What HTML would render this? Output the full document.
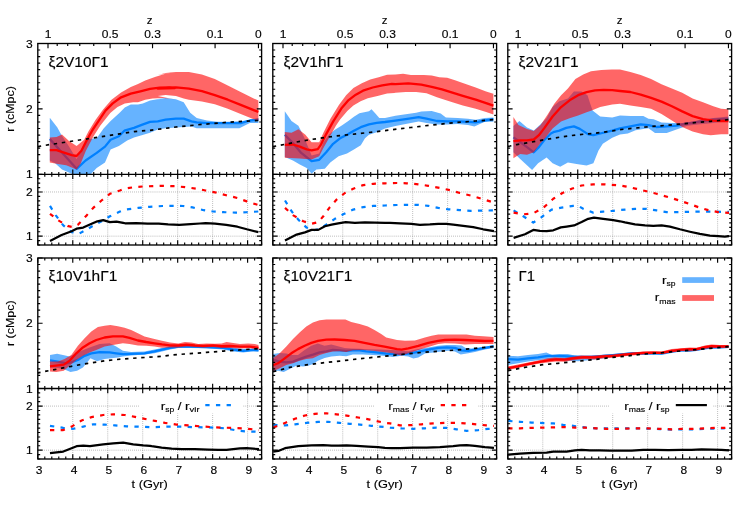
<!DOCTYPE html>
<html><head><meta charset="utf-8"><title>chart</title>
<style>html,body{margin:0;padding:0;background:#fff;}body{width:747px;height:505px;overflow:hidden;font-family:"Liberation Sans",sans-serif;}</style>
</head><body>
<svg width="747" height="505" viewBox="0 0 747 505" style="display:block">
<rect width="747" height="505" fill="#fff"/>
<clipPath id="cu00"><rect x="37.8" y="43.5" width="223.8" height="130.8"/></clipPath>
<clipPath id="cl00"><rect x="37.8" y="174.3" width="223.8" height="70.69999999999999"/></clipPath>
<line x1="72.77" y1="174.30" x2="72.77" y2="245.00" stroke="#7a7a7a" stroke-width="0.7" stroke-dasharray="0.7 1.35"/>
<line x1="107.74" y1="174.30" x2="107.74" y2="245.00" stroke="#7a7a7a" stroke-width="0.7" stroke-dasharray="0.7 1.35"/>
<line x1="142.71" y1="174.30" x2="142.71" y2="245.00" stroke="#7a7a7a" stroke-width="0.7" stroke-dasharray="0.7 1.35"/>
<line x1="177.68" y1="174.30" x2="177.68" y2="245.00" stroke="#7a7a7a" stroke-width="0.7" stroke-dasharray="0.7 1.35"/>
<line x1="212.64" y1="174.30" x2="212.64" y2="245.00" stroke="#7a7a7a" stroke-width="0.7" stroke-dasharray="0.7 1.35"/>
<line x1="247.61" y1="174.30" x2="247.61" y2="245.00" stroke="#7a7a7a" stroke-width="0.7" stroke-dasharray="0.7 1.35"/>
<line x1="37.80" y1="236.16" x2="261.60" y2="236.16" stroke="#7a7a7a" stroke-width="0.7" stroke-dasharray="0.7 1.35"/>
<line x1="37.80" y1="191.98" x2="261.60" y2="191.98" stroke="#7a7a7a" stroke-width="0.7" stroke-dasharray="0.7 1.35"/>
<polygon points="49.8,117.8 57.2,127.2 61.3,134.8 69.0,146.6 76.6,159.1 82.8,146.6 88.4,139.0 96.7,138.3 103.6,128.6 110.6,121.0 119.9,112.4 124.8,107.6 130.8,104.6 138.0,104.6 142.8,103.4 150.1,100.4 157.3,99.2 166.9,98.8 175.0,100.4 157.8,99.0 165.6,97.9 175.9,99.2 183.7,102.3 190.2,112.7 196.7,117.9 207.0,120.5 217.4,121.8 227.8,121.8 240.7,121.3 253.7,119.2 258.4,117.9 258.4,123.1 249.8,123.1 239.4,128.3 227.8,128.3 217.4,128.3 207.0,128.3 196.7,128.3 191.5,126.4 183.7,127.0 175.9,127.5 165.6,128.3 157.8,129.6 150.0,132.7 141.7,135.3 134.0,137.6 127.2,140.4 118.9,145.9 110.6,149.4 105.0,162.6 96.7,168.1 91.9,173.0 88.4,177.1 75.9,177.1 71.7,173.7 62.0,169.5 55.1,163.3 49.8,160.5" fill="#0080ff" fill-opacity="0.6" clip-path="url(#cu00)"/>
<polyline points="49.8,139.0 76.6,168.8 85.6,160.5 96.7,152.9 105.0,146.6 110.6,139.7 118.9,136.2 124.4,130.7 134.0,127.9 141.7,124.9 150.0,121.8 157.8,121.3 165.6,119.7 175.9,118.7 183.7,118.7 191.5,121.3 196.7,122.3 207.0,123.1 217.4,123.1 227.8,123.1 240.7,123.1 249.8,120.5 258.4,119.7" fill="none" stroke="#0080ff" stroke-width="2.3" stroke-linejoin="round" clip-path="url(#cu00)"/>
<polygon points="49.8,137.6 56.5,136.9 62.0,134.4 69.0,141.1 76.6,145.9 84.2,139.7 88.4,131.4 95.3,120.3 103.1,109.4 111.5,99.8 121.1,92.5 130.8,87.1 138.0,84.1 145.2,80.5 154.9,76.9 164.5,73.9 175.0,72.0 157.8,75.1 165.6,73.0 175.9,72.0 188.9,72.0 201.9,74.6 214.8,79.0 227.8,85.5 240.7,92.0 253.7,98.4 258.4,100.5 258.4,120.7 253.7,119.2 240.7,114.0 227.8,108.8 214.8,104.2 201.9,101.6 188.9,99.7 183.7,98.4 175.9,95.9 165.6,95.1 157.8,95.9 175.0,99.5 169.3,98.6 162.1,98.0 152.5,98.6 145.2,99.8 138.0,102.2 133.2,102.2 124.8,103.4 117.5,107.0 110.3,113.0 100.2,125.8 93.1,136.9 85.9,150.8 80.8,163.3 76.6,169.5 66.2,165.3 57.9,163.9 49.8,162.6" fill="#ff0000" fill-opacity="0.6" clip-path="url(#cu00)"/>
<polyline points="49.8,150.1 56.5,150.1 64.8,152.9 71.7,155.2 76.6,156.0 81.4,150.8 85.6,142.4 92.5,130.0 99.5,119.6 105.5,110.6 112.7,103.4 121.1,97.3 130.8,93.7 140.4,91.3 150.1,88.9 159.7,87.7 169.3,87.5 175.0,88.0 157.8,88.6 165.6,87.6 175.9,87.3 188.9,88.6 201.9,91.2 214.8,95.1 227.8,99.7 240.7,104.9 253.7,110.1 258.4,111.9" fill="none" stroke="#ff0000" stroke-width="2.3" stroke-linejoin="round" clip-path="url(#cu00)"/>
<polyline points="37.8,146.6 44.0,145.5 134.0,131.6 150.0,130.3 175.9,127.0 201.9,124.4 227.8,122.3 258.4,120.5 262.0,120.0" fill="none" stroke="#000" stroke-width="1.7" stroke-linejoin="round" stroke-dasharray="3.4 4.7" clip-path="url(#cu00)"/>
<polyline points="50.0,205.9 55.8,215.4 63.3,225.4 71.6,232.1 79.1,233.7 86.6,229.6 94.9,224.6 103.2,220.4 109.9,216.3 119.9,211.6 125.0,209.6 138.1,207.9 149.4,206.8 162.5,206.0 171.9,205.9 183.1,206.0 192.5,207.4 203.7,210.2 213.1,211.5 224.3,212.2 235.6,212.6 246.8,212.2 258.4,211.5" fill="none" stroke="#0080ff" stroke-width="2.2" stroke-linejoin="round" stroke-dasharray="4.3 6.35" clip-path="url(#cl00)"/>
<polyline points="50.0,213.8 58.3,220.4 68.3,226.2 73.3,227.1 78.2,224.6 86.6,215.4 93.2,207.9 101.5,200.5 109.9,193.8 119.9,190.5 125.0,188.6 134.4,187.1 143.7,186.4 162.5,185.8 173.7,186.2 185.0,187.1 196.2,188.6 205.6,190.5 215.0,192.4 226.2,195.2 237.4,198.0 246.8,201.4 258.4,205.1" fill="none" stroke="#ff0000" stroke-width="2.2" stroke-linejoin="round" stroke-dasharray="4.3 6.35" clip-path="url(#cl00)"/>
<polyline points="50.0,240.9 61.6,235.1 71.6,231.2 76.6,228.7 83.2,227.6 89.9,224.6 97.4,221.3 103.2,220.1 109.9,222.1 116.5,221.6 123.2,222.9 125.0,223.3 136.2,223.1 147.5,223.7 158.7,223.7 168.1,224.4 179.3,224.8 190.6,224.2 200.0,223.5 205.6,223.1 215.0,223.7 226.2,224.8 237.4,226.7 246.8,229.3 258.4,232.1" fill="none" stroke="#000" stroke-width="2.2" stroke-linejoin="round" clip-path="url(#cl00)"/>
<path d="M37.80 174.30L42.60 174.30M261.60 174.30L256.80 174.30M37.80 167.76L40.20 167.76M261.60 167.76L259.20 167.76M37.80 161.22L40.20 161.22M261.60 161.22L259.20 161.22M37.80 154.68L40.20 154.68M261.60 154.68L259.20 154.68M37.80 148.14L40.20 148.14M261.60 148.14L259.20 148.14M37.80 141.60L40.20 141.60M261.60 141.60L259.20 141.60M37.80 135.06L40.20 135.06M261.60 135.06L259.20 135.06M37.80 128.52L40.20 128.52M261.60 128.52L259.20 128.52M37.80 121.98L40.20 121.98M261.60 121.98L259.20 121.98M37.80 115.44L40.20 115.44M261.60 115.44L259.20 115.44M37.80 108.90L42.60 108.90M261.60 108.90L256.80 108.90M37.80 102.36L40.20 102.36M261.60 102.36L259.20 102.36M37.80 95.82L40.20 95.82M261.60 95.82L259.20 95.82M37.80 89.28L40.20 89.28M261.60 89.28L259.20 89.28M37.80 82.74L40.20 82.74M261.60 82.74L259.20 82.74M37.80 76.20L40.20 76.20M261.60 76.20L259.20 76.20M37.80 69.66L40.20 69.66M261.60 69.66L259.20 69.66M37.80 63.12L40.20 63.12M261.60 63.12L259.20 63.12M37.80 56.58L40.20 56.58M261.60 56.58L259.20 56.58M37.80 50.04L40.20 50.04M261.60 50.04L259.20 50.04M37.80 43.50L42.60 43.50M261.60 43.50L256.80 43.50M37.80 245.00L40.20 245.00M261.60 245.00L259.20 245.00M37.80 240.58L40.20 240.58M261.60 240.58L259.20 240.58M37.80 236.16L42.60 236.16M261.60 236.16L256.80 236.16M37.80 231.74L40.20 231.74M261.60 231.74L259.20 231.74M37.80 227.32L40.20 227.32M261.60 227.32L259.20 227.32M37.80 222.91L40.20 222.91M261.60 222.91L259.20 222.91M37.80 218.49L40.20 218.49M261.60 218.49L259.20 218.49M37.80 214.07L40.20 214.07M261.60 214.07L259.20 214.07M37.80 209.65L40.20 209.65M261.60 209.65L259.20 209.65M37.80 205.23L40.20 205.23M261.60 205.23L259.20 205.23M37.80 200.81L40.20 200.81M261.60 200.81L259.20 200.81M37.80 196.39L40.20 196.39M261.60 196.39L259.20 196.39M37.80 191.98L42.60 191.98M261.60 191.98L256.80 191.98M37.80 187.56L40.20 187.56M261.60 187.56L259.20 187.56M37.80 183.14L40.20 183.14M261.60 183.14L259.20 183.14M37.80 178.72L40.20 178.72M261.60 178.72L259.20 178.72M37.80 174.30L40.20 174.30M261.60 174.30L259.20 174.30M37.80 169.50L37.80 179.10M37.80 245.00L37.80 240.20M44.79 171.90L44.79 176.70M44.79 245.00L44.79 242.60M51.79 171.90L51.79 176.70M51.79 245.00L51.79 242.60M58.78 171.90L58.78 176.70M58.78 245.00L58.78 242.60M65.77 171.90L65.77 176.70M65.77 245.00L65.77 242.60M72.77 169.50L72.77 179.10M72.77 245.00L72.77 240.20M79.76 171.90L79.76 176.70M79.76 245.00L79.76 242.60M86.76 171.90L86.76 176.70M86.76 245.00L86.76 242.60M93.75 171.90L93.75 176.70M93.75 245.00L93.75 242.60M100.74 171.90L100.74 176.70M100.74 245.00L100.74 242.60M107.74 169.50L107.74 179.10M107.74 245.00L107.74 240.20M114.73 171.90L114.73 176.70M114.73 245.00L114.73 242.60M121.73 171.90L121.73 176.70M121.73 245.00L121.73 242.60M128.72 171.90L128.72 176.70M128.72 245.00L128.72 242.60M135.71 171.90L135.71 176.70M135.71 245.00L135.71 242.60M142.71 169.50L142.71 179.10M142.71 245.00L142.71 240.20M149.70 171.90L149.70 176.70M149.70 245.00L149.70 242.60M156.69 171.90L156.69 176.70M156.69 245.00L156.69 242.60M163.69 171.90L163.69 176.70M163.69 245.00L163.69 242.60M170.68 171.90L170.68 176.70M170.68 245.00L170.68 242.60M177.68 169.50L177.68 179.10M177.68 245.00L177.68 240.20M184.67 171.90L184.67 176.70M184.67 245.00L184.67 242.60M191.66 171.90L191.66 176.70M191.66 245.00L191.66 242.60M198.66 171.90L198.66 176.70M198.66 245.00L198.66 242.60M205.65 171.90L205.65 176.70M205.65 245.00L205.65 242.60M212.64 169.50L212.64 179.10M212.64 245.00L212.64 240.20M219.64 171.90L219.64 176.70M219.64 245.00L219.64 242.60M226.63 171.90L226.63 176.70M226.63 245.00L226.63 242.60M233.63 171.90L233.63 176.70M233.63 245.00L233.63 242.60M240.62 171.90L240.62 176.70M240.62 245.00L240.62 242.60M247.61 169.50L247.61 179.10M247.61 245.00L247.61 240.20M254.61 171.90L254.61 176.70M254.61 245.00L254.61 242.60M261.60 171.90L261.60 176.70M261.60 245.00L261.60 242.60M258.45 43.50L258.45 48.30M215.08 43.50L215.08 48.30M180.55 43.50L180.55 45.90M152.54 43.50L152.54 48.30M129.43 43.50L129.43 45.90M110.11 43.50L110.11 48.30M93.75 43.50L93.75 45.90M79.77 43.50L79.77 45.90M67.70 43.50L67.70 45.90M57.20 43.50L57.20 45.90M48.00 43.50L48.00 48.30" stroke="#000" stroke-width="1.15" fill="none"/>
<rect x="37.8" y="43.5" width="223.8" height="201.5" fill="none" stroke="#000" stroke-width="1.35"/>
<line x1="37.80" y1="174.30" x2="261.60" y2="174.30" stroke="#000" stroke-width="1.35" />
<clipPath id="cu01"><rect x="272.8" y="43.5" width="223.8" height="130.8"/></clipPath>
<clipPath id="cl01"><rect x="272.8" y="174.3" width="223.8" height="70.69999999999999"/></clipPath>
<line x1="307.77" y1="174.30" x2="307.77" y2="245.00" stroke="#7a7a7a" stroke-width="0.7" stroke-dasharray="0.7 1.35"/>
<line x1="342.74" y1="174.30" x2="342.74" y2="245.00" stroke="#7a7a7a" stroke-width="0.7" stroke-dasharray="0.7 1.35"/>
<line x1="377.71" y1="174.30" x2="377.71" y2="245.00" stroke="#7a7a7a" stroke-width="0.7" stroke-dasharray="0.7 1.35"/>
<line x1="412.68" y1="174.30" x2="412.68" y2="245.00" stroke="#7a7a7a" stroke-width="0.7" stroke-dasharray="0.7 1.35"/>
<line x1="447.64" y1="174.30" x2="447.64" y2="245.00" stroke="#7a7a7a" stroke-width="0.7" stroke-dasharray="0.7 1.35"/>
<line x1="482.61" y1="174.30" x2="482.61" y2="245.00" stroke="#7a7a7a" stroke-width="0.7" stroke-dasharray="0.7 1.35"/>
<line x1="272.80" y1="236.16" x2="496.60" y2="236.16" stroke="#7a7a7a" stroke-width="0.7" stroke-dasharray="0.7 1.35"/>
<line x1="272.80" y1="191.98" x2="496.60" y2="191.98" stroke="#7a7a7a" stroke-width="0.7" stroke-dasharray="0.7 1.35"/>
<polygon points="284.8,111.2 291.5,121.0 298.4,125.8 304.0,136.9 311.6,155.6 319.2,153.5 323.4,142.4 328.9,134.8 334.5,130.0 341.4,125.8 348.3,121.0 353.9,116.8 359.4,113.3 369.0,111.2 371.5,109.3 375.4,113.5 379.3,117.9 385.0,117.9 395.4,115.8 405.7,114.3 416.1,112.7 421.3,111.4 431.7,110.9 440.7,113.5 445.9,117.4 457.6,117.9 468.0,118.7 475.7,119.7 484.8,117.9 493.4,117.4 493.4,121.8 484.8,121.8 474.4,126.4 468.0,124.9 457.6,123.9 447.2,124.4 436.9,124.4 426.5,123.1 418.7,121.5 405.7,124.1 395.4,125.9 385.0,128.5 376.7,132.2 369.0,134.8 365.0,138.3 360.8,145.2 353.9,149.4 347.0,153.5 338.6,156.3 330.3,162.6 324.8,168.8 316.4,169.5 311.6,173.7 306.7,168.1 299.8,164.6 292.9,160.5 284.8,157.0" fill="#0080ff" fill-opacity="0.6" clip-path="url(#cu01)"/>
<polyline points="284.8,134.8 292.9,143.1 301.2,152.9 311.6,161.2 319.2,159.8 326.2,152.2 333.1,143.8 340.0,138.3 347.0,134.8 353.9,130.7 360.8,127.2 369.0,124.4 376.7,122.8 385.0,122.0 395.4,120.7 405.7,119.2 418.7,117.1 426.5,118.7 436.9,121.0 447.2,121.3 457.6,121.3 468.0,121.8 475.7,122.3 484.8,120.5 493.4,119.2" fill="none" stroke="#0080ff" stroke-width="2.3" stroke-linejoin="round" clip-path="url(#cu01)"/>
<polygon points="284.8,132.0 291.5,132.7 298.4,129.3 305.4,134.8 311.6,142.2 319.2,142.2 323.4,132.7 330.3,118.9 338.9,104.9 346.1,95.3 353.4,88.1 361.8,83.3 370.2,79.6 378.7,77.2 387.1,74.8 395.4,74.6 403.1,73.8 410.9,75.1 423.9,75.1 431.7,75.6 439.4,77.2 447.2,77.7 455.0,80.3 462.8,82.9 475.7,87.6 486.1,91.4 493.4,93.8 493.4,114.5 486.1,111.9 475.7,108.8 462.8,105.4 452.4,102.3 444.6,99.7 436.9,97.2 426.5,93.3 416.1,92.0 405.7,92.0 395.4,92.7 394.3,92.9 387.1,93.5 377.5,95.9 367.8,98.3 360.6,101.3 353.4,105.5 347.3,111.0 340.1,119.4 335.9,125.8 328.9,138.3 323.4,148.0 319.2,156.3 311.6,159.4 299.8,158.4 284.8,157.7" fill="#ff0000" fill-opacity="0.6" clip-path="url(#cu01)"/>
<polyline points="284.8,144.9 292.9,144.5 299.8,146.6 306.7,149.4 311.6,150.4 317.8,149.1 320.6,145.2 326.2,134.1 333.1,121.6 341.3,108.6 348.6,100.1 355.8,94.7 363.0,90.7 372.7,87.5 382.3,85.4 391.9,83.9 395.4,84.2 408.3,83.4 421.3,84.7 431.7,86.8 442.0,89.4 452.4,92.7 462.8,95.9 475.7,99.7 486.1,103.1 493.4,105.7" fill="none" stroke="#ff0000" stroke-width="2.3" stroke-linejoin="round" clip-path="url(#cu01)"/>
<polyline points="272.8,146.6 279.0,145.5 292.9,142.7 311.6,139.4 334.5,136.2 369.0,132.5 385.0,130.6 398.0,129.0 410.9,127.5 423.9,125.9 436.9,124.6 449.8,123.1 462.8,122.0 475.7,121.0 493.4,119.7 497.0,119.4" fill="none" stroke="#000" stroke-width="1.7" stroke-linejoin="round" stroke-dasharray="3.4 4.7" clip-path="url(#cu01)"/>
<polyline points="285.0,200.5 291.6,211.3 298.3,219.6 306.6,227.6 313.3,230.4 319.9,228.8 326.6,224.3 334.9,218.8 343.2,214.3 353.2,209.6 363.2,207.1 373.2,205.9 385.0,205.5 396.6,205.0 406.6,204.8 418.3,204.8 428.3,205.8 438.3,207.9 448.2,209.3 459.9,210.1 470.7,210.9 481.5,210.6 494.0,210.4" fill="none" stroke="#0080ff" stroke-width="2.2" stroke-linejoin="round" stroke-dasharray="4.3 6.35" clip-path="url(#cl01)"/>
<polyline points="285.0,207.9 293.3,215.4 303.3,221.3 311.6,223.8 318.3,222.1 323.3,216.3 329.9,207.1 336.6,199.6 344.9,193.0 353.2,188.8 363.2,185.1 373.2,183.8 385.0,183.3 396.6,183.0 406.6,183.3 418.3,184.3 428.3,185.8 439.9,188.0 449.9,190.1 459.9,193.0 470.7,195.5 481.5,198.8 494.0,202.6" fill="none" stroke="#ff0000" stroke-width="2.2" stroke-linejoin="round" stroke-dasharray="4.3 6.35" clip-path="url(#cl01)"/>
<polyline points="285.0,240.4 296.6,234.6 304.9,232.4 311.6,229.9 318.3,229.9 324.9,226.3 331.6,224.6 338.2,223.4 345.7,222.1 354.9,222.9 364.9,222.4 374.9,222.6 385.0,222.9 390.0,222.9 400.0,223.4 411.6,223.9 419.9,224.8 429.9,224.4 438.3,223.8 446.6,223.8 453.2,224.6 463.2,225.8 473.2,227.1 483.2,229.3 494.0,231.2" fill="none" stroke="#000" stroke-width="2.2" stroke-linejoin="round" clip-path="url(#cl01)"/>
<path d="M272.80 174.30L277.60 174.30M496.60 174.30L491.80 174.30M272.80 167.76L275.20 167.76M496.60 167.76L494.20 167.76M272.80 161.22L275.20 161.22M496.60 161.22L494.20 161.22M272.80 154.68L275.20 154.68M496.60 154.68L494.20 154.68M272.80 148.14L275.20 148.14M496.60 148.14L494.20 148.14M272.80 141.60L275.20 141.60M496.60 141.60L494.20 141.60M272.80 135.06L275.20 135.06M496.60 135.06L494.20 135.06M272.80 128.52L275.20 128.52M496.60 128.52L494.20 128.52M272.80 121.98L275.20 121.98M496.60 121.98L494.20 121.98M272.80 115.44L275.20 115.44M496.60 115.44L494.20 115.44M272.80 108.90L277.60 108.90M496.60 108.90L491.80 108.90M272.80 102.36L275.20 102.36M496.60 102.36L494.20 102.36M272.80 95.82L275.20 95.82M496.60 95.82L494.20 95.82M272.80 89.28L275.20 89.28M496.60 89.28L494.20 89.28M272.80 82.74L275.20 82.74M496.60 82.74L494.20 82.74M272.80 76.20L275.20 76.20M496.60 76.20L494.20 76.20M272.80 69.66L275.20 69.66M496.60 69.66L494.20 69.66M272.80 63.12L275.20 63.12M496.60 63.12L494.20 63.12M272.80 56.58L275.20 56.58M496.60 56.58L494.20 56.58M272.80 50.04L275.20 50.04M496.60 50.04L494.20 50.04M272.80 43.50L277.60 43.50M496.60 43.50L491.80 43.50M272.80 245.00L275.20 245.00M496.60 245.00L494.20 245.00M272.80 240.58L275.20 240.58M496.60 240.58L494.20 240.58M272.80 236.16L277.60 236.16M496.60 236.16L491.80 236.16M272.80 231.74L275.20 231.74M496.60 231.74L494.20 231.74M272.80 227.32L275.20 227.32M496.60 227.32L494.20 227.32M272.80 222.91L275.20 222.91M496.60 222.91L494.20 222.91M272.80 218.49L275.20 218.49M496.60 218.49L494.20 218.49M272.80 214.07L275.20 214.07M496.60 214.07L494.20 214.07M272.80 209.65L275.20 209.65M496.60 209.65L494.20 209.65M272.80 205.23L275.20 205.23M496.60 205.23L494.20 205.23M272.80 200.81L275.20 200.81M496.60 200.81L494.20 200.81M272.80 196.39L275.20 196.39M496.60 196.39L494.20 196.39M272.80 191.98L277.60 191.98M496.60 191.98L491.80 191.98M272.80 187.56L275.20 187.56M496.60 187.56L494.20 187.56M272.80 183.14L275.20 183.14M496.60 183.14L494.20 183.14M272.80 178.72L275.20 178.72M496.60 178.72L494.20 178.72M272.80 174.30L275.20 174.30M496.60 174.30L494.20 174.30M272.80 169.50L272.80 179.10M272.80 245.00L272.80 240.20M279.79 171.90L279.79 176.70M279.79 245.00L279.79 242.60M286.79 171.90L286.79 176.70M286.79 245.00L286.79 242.60M293.78 171.90L293.78 176.70M293.78 245.00L293.78 242.60M300.77 171.90L300.77 176.70M300.77 245.00L300.77 242.60M307.77 169.50L307.77 179.10M307.77 245.00L307.77 240.20M314.76 171.90L314.76 176.70M314.76 245.00L314.76 242.60M321.76 171.90L321.76 176.70M321.76 245.00L321.76 242.60M328.75 171.90L328.75 176.70M328.75 245.00L328.75 242.60M335.74 171.90L335.74 176.70M335.74 245.00L335.74 242.60M342.74 169.50L342.74 179.10M342.74 245.00L342.74 240.20M349.73 171.90L349.73 176.70M349.73 245.00L349.73 242.60M356.73 171.90L356.73 176.70M356.73 245.00L356.73 242.60M363.72 171.90L363.72 176.70M363.72 245.00L363.72 242.60M370.71 171.90L370.71 176.70M370.71 245.00L370.71 242.60M377.71 169.50L377.71 179.10M377.71 245.00L377.71 240.20M384.70 171.90L384.70 176.70M384.70 245.00L384.70 242.60M391.69 171.90L391.69 176.70M391.69 245.00L391.69 242.60M398.69 171.90L398.69 176.70M398.69 245.00L398.69 242.60M405.68 171.90L405.68 176.70M405.68 245.00L405.68 242.60M412.68 169.50L412.68 179.10M412.68 245.00L412.68 240.20M419.67 171.90L419.67 176.70M419.67 245.00L419.67 242.60M426.66 171.90L426.66 176.70M426.66 245.00L426.66 242.60M433.66 171.90L433.66 176.70M433.66 245.00L433.66 242.60M440.65 171.90L440.65 176.70M440.65 245.00L440.65 242.60M447.64 169.50L447.64 179.10M447.64 245.00L447.64 240.20M454.64 171.90L454.64 176.70M454.64 245.00L454.64 242.60M461.63 171.90L461.63 176.70M461.63 245.00L461.63 242.60M468.63 171.90L468.63 176.70M468.63 245.00L468.63 242.60M475.62 171.90L475.62 176.70M475.62 245.00L475.62 242.60M482.61 169.50L482.61 179.10M482.61 245.00L482.61 240.20M489.61 171.90L489.61 176.70M489.61 245.00L489.61 242.60M496.60 171.90L496.60 176.70M496.60 245.00L496.60 242.60M493.45 43.50L493.45 48.30M450.08 43.50L450.08 48.30M415.55 43.50L415.55 45.90M387.54 43.50L387.54 48.30M364.43 43.50L364.43 45.90M345.11 43.50L345.11 48.30M328.75 43.50L328.75 45.90M314.77 43.50L314.77 45.90M302.70 43.50L302.70 45.90M292.20 43.50L292.20 45.90M283.00 43.50L283.00 48.30" stroke="#000" stroke-width="1.15" fill="none"/>
<rect x="272.8" y="43.5" width="223.8" height="201.5" fill="none" stroke="#000" stroke-width="1.35"/>
<line x1="272.80" y1="174.30" x2="496.60" y2="174.30" stroke="#000" stroke-width="1.35" />
<clipPath id="cu02"><rect x="507.8" y="43.5" width="223.8" height="130.8"/></clipPath>
<clipPath id="cl02"><rect x="507.8" y="174.3" width="223.8" height="70.69999999999999"/></clipPath>
<line x1="542.77" y1="174.30" x2="542.77" y2="245.00" stroke="#7a7a7a" stroke-width="0.7" stroke-dasharray="0.7 1.35"/>
<line x1="577.74" y1="174.30" x2="577.74" y2="245.00" stroke="#7a7a7a" stroke-width="0.7" stroke-dasharray="0.7 1.35"/>
<line x1="612.71" y1="174.30" x2="612.71" y2="245.00" stroke="#7a7a7a" stroke-width="0.7" stroke-dasharray="0.7 1.35"/>
<line x1="647.67" y1="174.30" x2="647.67" y2="245.00" stroke="#7a7a7a" stroke-width="0.7" stroke-dasharray="0.7 1.35"/>
<line x1="682.64" y1="174.30" x2="682.64" y2="245.00" stroke="#7a7a7a" stroke-width="0.7" stroke-dasharray="0.7 1.35"/>
<line x1="717.61" y1="174.30" x2="717.61" y2="245.00" stroke="#7a7a7a" stroke-width="0.7" stroke-dasharray="0.7 1.35"/>
<line x1="507.80" y1="236.16" x2="731.60" y2="236.16" stroke="#7a7a7a" stroke-width="0.7" stroke-dasharray="0.7 1.35"/>
<line x1="507.80" y1="191.98" x2="731.60" y2="191.98" stroke="#7a7a7a" stroke-width="0.7" stroke-dasharray="0.7 1.35"/>
<polygon points="513.4,125.9 519.4,121.1 527.0,127.6 533.8,130.6 539.8,125.0 546.6,118.2 552.6,107.1 559.4,101.2 567.9,98.6 573.9,91.5 581.5,91.5 587.5,95.2 590.0,102.9 592.6,110.5 600.2,116.5 612.2,117.4 620.0,115.6 630.4,116.1 643.3,116.1 648.5,118.7 653.7,119.2 661.5,122.6 671.9,123.1 682.2,123.1 692.6,121.8 703.0,119.7 713.3,117.9 728.4,116.6 728.4,121.3 713.3,123.1 697.8,124.4 687.4,125.7 682.2,127.5 674.4,130.3 666.7,132.9 655.0,132.9 648.5,128.3 643.3,129.0 635.6,130.3 627.8,133.4 620.0,134.4 612.2,137.8 602.8,143.7 598.5,150.6 593.4,163.3 586.6,165.4 578.1,164.2 567.9,162.5 560.2,166.7 552.6,163.3 546.6,157.4 538.1,163.3 532.1,170.1 519.4,158.2 513.4,152.3" fill="#0080ff" fill-opacity="0.6" clip-path="url(#cu02)"/>
<polyline points="513.4,137.4 520.2,142.0 527.0,147.1 533.8,152.3 538.9,147.1 544.1,140.3 550.9,133.5 554.3,131.8 559.4,130.6 566.2,127.9 573.9,126.4 579.8,128.9 588.3,134.4 593.4,135.2 600.2,133.5 612.2,130.6 620.0,128.4 630.4,126.4 640.7,124.4 648.5,125.2 656.3,127.0 666.7,126.4 677.0,125.7 684.8,123.9 692.6,122.6 703.0,121.0 713.3,119.7 728.4,118.7" fill="none" stroke="#0080ff" stroke-width="2.3" stroke-linejoin="round" clip-path="url(#cu02)"/>
<polygon points="513.4,117.0 518.5,125.0 527.0,128.9 533.8,131.0 540.6,125.0 547.5,114.8 554.3,103.7 561.1,95.2 567.9,88.4 575.4,79.0 583.2,74.6 591.0,71.2 601.3,69.9 611.7,69.4 620.0,69.4 630.4,72.0 640.7,75.1 651.1,79.0 661.5,84.2 671.9,88.6 682.2,92.7 692.6,98.4 703.0,102.3 713.3,106.2 721.1,108.8 728.4,109.3 728.4,134.2 721.1,134.2 710.7,135.3 703.0,134.2 692.6,131.6 682.2,127.0 671.9,120.5 661.5,114.0 651.1,108.8 640.7,107.0 630.4,105.4 620.0,103.7 612.2,104.6 600.2,107.1 591.7,110.5 586.6,112.2 578.1,115.6 569.6,118.2 561.1,121.6 552.6,128.4 544.1,139.5 540.6,142.9 533.8,152.3 527.0,154.8 520.2,154.0 513.4,158.2" fill="#ff0000" fill-opacity="0.6" clip-path="url(#cu02)"/>
<polyline points="513.4,141.2 520.2,140.3 527.0,140.3 533.8,139.5 538.9,135.2 544.1,128.4 552.6,116.5 561.1,107.1 569.6,100.3 578.1,95.2 586.6,92.2 595.1,90.4 603.6,89.8 612.2,90.1 620.0,91.0 630.4,92.0 640.7,94.6 651.1,97.9 661.5,101.6 671.9,106.2 682.2,111.4 692.6,116.1 703.0,119.2 713.3,120.7 721.1,121.0 728.4,121.0" fill="none" stroke="#ff0000" stroke-width="2.3" stroke-linejoin="round" clip-path="url(#cu02)"/>
<polyline points="508.0,146.3 510.0,146.0 516.8,144.6 527.0,142.9 544.1,139.8 561.1,136.9 578.1,134.7 595.1,133.2 612.2,131.0 620.0,129.6 633.0,128.3 645.9,127.0 658.9,125.9 671.9,124.9 684.8,123.6 697.8,122.3 710.7,121.3 728.4,119.7 732.0,119.2" fill="none" stroke="#000" stroke-width="1.7" stroke-linejoin="round" stroke-dasharray="3.4 4.7" clip-path="url(#cu02)"/>
<polyline points="513.6,210.4 523.3,216.3 533.3,222.6 541.6,217.1 551.6,209.6 561.6,207.6 573.2,205.9 578.2,205.9 583.2,208.8 593.2,212.6 603.2,211.6 613.2,210.8 620.0,209.9 625.0,209.6 635.0,208.8 646.6,208.8 656.6,210.4 666.6,212.1 678.2,212.1 688.2,211.8 699.9,211.6 711.5,211.6 721.5,211.8 729.0,211.8" fill="none" stroke="#0080ff" stroke-width="2.2" stroke-linejoin="round" stroke-dasharray="4.3 6.35" clip-path="url(#cl02)"/>
<polyline points="513.6,212.6 523.3,214.3 533.3,213.3 543.3,207.9 553.3,198.8 562.4,193.0 571.6,188.8 581.6,185.5 593.2,184.3 604.9,184.3 620.0,185.5 625.0,186.3 636.6,188.8 646.6,191.3 656.6,193.8 668.3,197.1 678.2,200.1 688.2,203.5 698.2,207.1 708.2,210.1 718.2,212.1 729.0,212.9" fill="none" stroke="#ff0000" stroke-width="2.2" stroke-linejoin="round" stroke-dasharray="4.3 6.35" clip-path="url(#cl02)"/>
<polyline points="513.6,237.9 525.0,234.2 533.3,229.9 539.9,230.9 546.6,231.2 553.3,230.3 560.8,227.4 566.6,226.6 574.1,225.4 581.6,222.1 588.2,218.8 594.0,217.6 603.2,218.8 613.2,220.1 620.0,221.3 625.0,222.4 635.0,224.3 645.0,225.4 653.3,225.9 661.6,225.4 669.9,226.6 679.9,229.3 689.9,231.7 699.9,233.9 709.9,235.6 718.2,236.2 724.9,236.6 729.0,236.2" fill="none" stroke="#000" stroke-width="2.2" stroke-linejoin="round" clip-path="url(#cl02)"/>
<path d="M507.80 174.30L512.60 174.30M731.60 174.30L726.80 174.30M507.80 167.76L510.20 167.76M731.60 167.76L729.20 167.76M507.80 161.22L510.20 161.22M731.60 161.22L729.20 161.22M507.80 154.68L510.20 154.68M731.60 154.68L729.20 154.68M507.80 148.14L510.20 148.14M731.60 148.14L729.20 148.14M507.80 141.60L510.20 141.60M731.60 141.60L729.20 141.60M507.80 135.06L510.20 135.06M731.60 135.06L729.20 135.06M507.80 128.52L510.20 128.52M731.60 128.52L729.20 128.52M507.80 121.98L510.20 121.98M731.60 121.98L729.20 121.98M507.80 115.44L510.20 115.44M731.60 115.44L729.20 115.44M507.80 108.90L512.60 108.90M731.60 108.90L726.80 108.90M507.80 102.36L510.20 102.36M731.60 102.36L729.20 102.36M507.80 95.82L510.20 95.82M731.60 95.82L729.20 95.82M507.80 89.28L510.20 89.28M731.60 89.28L729.20 89.28M507.80 82.74L510.20 82.74M731.60 82.74L729.20 82.74M507.80 76.20L510.20 76.20M731.60 76.20L729.20 76.20M507.80 69.66L510.20 69.66M731.60 69.66L729.20 69.66M507.80 63.12L510.20 63.12M731.60 63.12L729.20 63.12M507.80 56.58L510.20 56.58M731.60 56.58L729.20 56.58M507.80 50.04L510.20 50.04M731.60 50.04L729.20 50.04M507.80 43.50L512.60 43.50M731.60 43.50L726.80 43.50M507.80 245.00L510.20 245.00M731.60 245.00L729.20 245.00M507.80 240.58L510.20 240.58M731.60 240.58L729.20 240.58M507.80 236.16L512.60 236.16M731.60 236.16L726.80 236.16M507.80 231.74L510.20 231.74M731.60 231.74L729.20 231.74M507.80 227.32L510.20 227.32M731.60 227.32L729.20 227.32M507.80 222.91L510.20 222.91M731.60 222.91L729.20 222.91M507.80 218.49L510.20 218.49M731.60 218.49L729.20 218.49M507.80 214.07L510.20 214.07M731.60 214.07L729.20 214.07M507.80 209.65L510.20 209.65M731.60 209.65L729.20 209.65M507.80 205.23L510.20 205.23M731.60 205.23L729.20 205.23M507.80 200.81L510.20 200.81M731.60 200.81L729.20 200.81M507.80 196.39L510.20 196.39M731.60 196.39L729.20 196.39M507.80 191.98L512.60 191.98M731.60 191.98L726.80 191.98M507.80 187.56L510.20 187.56M731.60 187.56L729.20 187.56M507.80 183.14L510.20 183.14M731.60 183.14L729.20 183.14M507.80 178.72L510.20 178.72M731.60 178.72L729.20 178.72M507.80 174.30L510.20 174.30M731.60 174.30L729.20 174.30M507.80 169.50L507.80 179.10M507.80 245.00L507.80 240.20M514.79 171.90L514.79 176.70M514.79 245.00L514.79 242.60M521.79 171.90L521.79 176.70M521.79 245.00L521.79 242.60M528.78 171.90L528.78 176.70M528.78 245.00L528.78 242.60M535.77 171.90L535.77 176.70M535.77 245.00L535.77 242.60M542.77 169.50L542.77 179.10M542.77 245.00L542.77 240.20M549.76 171.90L549.76 176.70M549.76 245.00L549.76 242.60M556.76 171.90L556.76 176.70M556.76 245.00L556.76 242.60M563.75 171.90L563.75 176.70M563.75 245.00L563.75 242.60M570.74 171.90L570.74 176.70M570.74 245.00L570.74 242.60M577.74 169.50L577.74 179.10M577.74 245.00L577.74 240.20M584.73 171.90L584.73 176.70M584.73 245.00L584.73 242.60M591.73 171.90L591.73 176.70M591.73 245.00L591.73 242.60M598.72 171.90L598.72 176.70M598.72 245.00L598.72 242.60M605.71 171.90L605.71 176.70M605.71 245.00L605.71 242.60M612.71 169.50L612.71 179.10M612.71 245.00L612.71 240.20M619.70 171.90L619.70 176.70M619.70 245.00L619.70 242.60M626.69 171.90L626.69 176.70M626.69 245.00L626.69 242.60M633.69 171.90L633.69 176.70M633.69 245.00L633.69 242.60M640.68 171.90L640.68 176.70M640.68 245.00L640.68 242.60M647.67 169.50L647.67 179.10M647.67 245.00L647.67 240.20M654.67 171.90L654.67 176.70M654.67 245.00L654.67 242.60M661.66 171.90L661.66 176.70M661.66 245.00L661.66 242.60M668.66 171.90L668.66 176.70M668.66 245.00L668.66 242.60M675.65 171.90L675.65 176.70M675.65 245.00L675.65 242.60M682.64 169.50L682.64 179.10M682.64 245.00L682.64 240.20M689.64 171.90L689.64 176.70M689.64 245.00L689.64 242.60M696.63 171.90L696.63 176.70M696.63 245.00L696.63 242.60M703.62 171.90L703.62 176.70M703.62 245.00L703.62 242.60M710.62 171.90L710.62 176.70M710.62 245.00L710.62 242.60M717.61 169.50L717.61 179.10M717.61 245.00L717.61 240.20M724.61 171.90L724.61 176.70M724.61 245.00L724.61 242.60M731.60 171.90L731.60 176.70M731.60 245.00L731.60 242.60M728.45 43.50L728.45 48.30M685.08 43.50L685.08 48.30M650.55 43.50L650.55 45.90M622.54 43.50L622.54 48.30M599.43 43.50L599.43 45.90M580.11 43.50L580.11 48.30M563.75 43.50L563.75 45.90M549.77 43.50L549.77 45.90M537.70 43.50L537.70 45.90M527.20 43.50L527.20 45.90M518.00 43.50L518.00 48.30" stroke="#000" stroke-width="1.15" fill="none"/>
<rect x="507.8" y="43.5" width="223.8" height="201.5" fill="none" stroke="#000" stroke-width="1.35"/>
<line x1="507.80" y1="174.30" x2="731.60" y2="174.30" stroke="#000" stroke-width="1.35" />
<clipPath id="cu10"><rect x="37.8" y="258.0" width="223.8" height="130.45"/></clipPath>
<clipPath id="cl10"><rect x="37.8" y="388.45" width="223.8" height="70.55000000000001"/></clipPath>
<line x1="72.77" y1="388.45" x2="72.77" y2="459.00" stroke="#7a7a7a" stroke-width="0.7" stroke-dasharray="0.7 1.35"/>
<line x1="107.74" y1="388.45" x2="107.74" y2="459.00" stroke="#7a7a7a" stroke-width="0.7" stroke-dasharray="0.7 1.35"/>
<line x1="142.71" y1="388.45" x2="142.71" y2="459.00" stroke="#7a7a7a" stroke-width="0.7" stroke-dasharray="0.7 1.35"/>
<line x1="177.68" y1="388.45" x2="177.68" y2="459.00" stroke="#7a7a7a" stroke-width="0.7" stroke-dasharray="0.7 1.35"/>
<line x1="212.64" y1="388.45" x2="212.64" y2="459.00" stroke="#7a7a7a" stroke-width="0.7" stroke-dasharray="0.7 1.35"/>
<line x1="247.61" y1="388.45" x2="247.61" y2="459.00" stroke="#7a7a7a" stroke-width="0.7" stroke-dasharray="0.7 1.35"/>
<line x1="37.80" y1="450.18" x2="261.60" y2="450.18" stroke="#7a7a7a" stroke-width="0.7" stroke-dasharray="0.7 1.35"/>
<line x1="37.80" y1="406.09" x2="261.60" y2="406.09" stroke="#7a7a7a" stroke-width="0.7" stroke-dasharray="0.7 1.35"/>
<rect x="139" y="389" width="104" height="24.5" fill="#fff"/>
<polygon points="50.0,354.9 57.1,353.8 63.0,354.9 69.6,356.6 79.6,351.6 89.6,347.4 99.6,344.1 109.6,343.3 116.2,346.6 122.9,350.8 131.2,352.1 144.5,351.6 154.5,349.6 162.0,347.9 170.0,346.3 178.3,345.4 189.9,345.4 206.6,345.8 223.2,346.3 233.2,347.4 243.2,349.1 253.2,348.6 258.5,349.1 258.5,351.6 253.2,351.3 243.2,352.4 233.2,351.6 223.2,349.6 206.6,348.3 189.9,347.9 178.3,347.9 170.0,349.6 162.0,351.6 154.5,353.3 144.5,354.6 131.2,355.4 122.9,356.6 117.9,357.4 111.2,358.3 104.6,359.1 97.1,361.3 90.4,358.3 87.9,361.6 82.9,367.4 77.1,370.7 70.5,371.9 64.6,369.6 58.0,367.9 50.0,367.4" fill="#0080ff" fill-opacity="0.6" clip-path="url(#cu10)"/>
<polyline points="50.0,360.4 58.0,361.6 66.3,363.3 71.3,362.4 77.9,359.9 84.6,355.8 91.3,353.3 99.6,352.1 109.6,352.4 116.2,353.3 122.9,354.1 131.2,353.8 144.5,353.3 154.5,351.3 162.0,349.6 170.0,347.9 178.3,346.6 189.9,346.6 206.6,347.1 223.2,347.9 233.2,349.6 243.2,350.8 253.2,349.9 258.5,350.4" fill="none" stroke="#0080ff" stroke-width="2.3" stroke-linejoin="round" clip-path="url(#cu10)"/>
<polygon points="50.0,361.6 58.0,361.6 64.6,359.1 71.3,354.9 77.9,345.8 84.6,338.3 91.3,331.6 97.9,327.1 104.6,325.8 110.4,325.0 117.9,326.3 124.6,327.8 131.2,330.0 137.9,333.3 144.5,336.6 154.5,339.1 162.0,340.8 170.0,342.5 178.3,343.6 184.9,342.0 191.6,342.5 198.3,344.1 206.6,343.6 214.9,343.8 221.6,343.6 226.6,342.0 233.2,342.9 239.9,344.1 248.2,343.6 254.8,344.1 258.5,344.9 258.5,349.6 249.9,348.3 239.9,348.6 229.9,347.9 221.6,347.9 213.2,346.9 203.2,347.4 194.9,347.1 186.6,346.6 178.3,347.4 170.0,347.4 162.0,347.8 154.5,346.6 146.2,345.8 137.9,345.4 129.5,344.1 122.9,343.3 112.9,344.9 104.6,346.6 96.3,349.9 89.6,352.4 82.9,355.8 76.3,359.9 69.6,365.8 63.8,370.7 56.3,371.9 50.0,371.6" fill="#ff0000" fill-opacity="0.6" clip-path="url(#cu10)"/>
<polyline points="50.0,366.3 58.0,365.3 63.8,364.6 69.6,360.8 76.3,353.3 82.9,347.4 89.6,343.3 96.3,340.0 104.6,337.5 112.9,336.3 122.9,336.3 129.5,337.8 137.9,340.5 146.2,342.0 154.5,343.3 162.0,344.4 170.0,345.3 178.3,345.4 186.6,344.6 194.9,345.4 203.2,345.8 213.2,345.4 221.6,346.1 229.9,345.8 239.9,346.6 249.9,346.6 258.5,347.8" fill="none" stroke="#ff0000" stroke-width="2.3" stroke-linejoin="round" clip-path="url(#cu10)"/>
<polyline points="37.2,373.1 38.0,372.9 46.3,371.2 54.6,369.6 63.0,367.9 71.3,366.3 87.9,363.3 104.6,360.8 121.2,359.1 137.9,357.9 154.5,356.9 162.0,356.3 173.3,354.9 189.9,353.6 206.6,352.4 223.2,351.1 239.9,349.9 256.5,348.8 264.0,348.3" fill="none" stroke="#000" stroke-width="1.7" stroke-linejoin="round" stroke-dasharray="3.4 4.7" clip-path="url(#cu10)"/>
<polyline points="50.0,425.8 63.3,427.9 73.3,428.8 83.3,426.6 93.2,424.3 104.9,424.6 114.9,425.4 126.5,426.3 136.5,426.6 150.0,427.1 155.0,427.1 170.0,426.6 181.6,426.6 193.3,427.1 203.3,427.3 214.9,427.6 224.9,428.3 234.9,430.1 244.9,431.3 253.2,431.6 259.0,431.9" fill="none" stroke="#0080ff" stroke-width="2.2" stroke-linejoin="round" stroke-dasharray="4.3 6.35" clip-path="url(#cl10)"/>
<polyline points="50.0,430.1 63.3,430.1 71.6,426.6 81.6,420.5 91.6,417.1 103.2,415.0 113.2,414.3 124.9,415.0 134.9,416.8 150.0,420.0 155.0,420.9 165.0,422.9 176.6,424.6 188.3,425.4 199.9,426.3 211.6,427.1 221.6,427.6 231.6,427.9 243.2,428.4 253.2,429.3 259.0,430.1" fill="none" stroke="#ff0000" stroke-width="2.2" stroke-linejoin="round" stroke-dasharray="4.3 6.35" clip-path="url(#cl10)"/>
<polyline points="50.0,453.2 63.3,451.6 76.6,446.2 83.3,445.7 89.9,446.2 103.2,444.3 113.2,443.3 123.2,442.6 133.2,444.3 143.2,445.4 150.0,445.9 151.7,446.2 161.6,447.6 171.6,448.7 181.6,449.1 194.9,449.2 208.2,449.6 218.2,449.9 226.6,449.9 233.2,449.2 239.9,448.4 246.5,448.2 253.2,448.7 259.0,449.1" fill="none" stroke="#000" stroke-width="2.2" stroke-linejoin="round" clip-path="url(#cl10)"/>
<path d="M37.80 388.45L42.60 388.45M261.60 388.45L256.80 388.45M37.80 381.93L40.20 381.93M261.60 381.93L259.20 381.93M37.80 375.40L40.20 375.40M261.60 375.40L259.20 375.40M37.80 368.88L40.20 368.88M261.60 368.88L259.20 368.88M37.80 362.36L40.20 362.36M261.60 362.36L259.20 362.36M37.80 355.84L40.20 355.84M261.60 355.84L259.20 355.84M37.80 349.31L40.20 349.31M261.60 349.31L259.20 349.31M37.80 342.79L40.20 342.79M261.60 342.79L259.20 342.79M37.80 336.27L40.20 336.27M261.60 336.27L259.20 336.27M37.80 329.75L40.20 329.75M261.60 329.75L259.20 329.75M37.80 323.23L42.60 323.23M261.60 323.23L256.80 323.23M37.80 316.70L40.20 316.70M261.60 316.70L259.20 316.70M37.80 310.18L40.20 310.18M261.60 310.18L259.20 310.18M37.80 303.66L40.20 303.66M261.60 303.66L259.20 303.66M37.80 297.13L40.20 297.13M261.60 297.13L259.20 297.13M37.80 290.61L40.20 290.61M261.60 290.61L259.20 290.61M37.80 284.09L40.20 284.09M261.60 284.09L259.20 284.09M37.80 277.57L40.20 277.57M261.60 277.57L259.20 277.57M37.80 271.05L40.20 271.05M261.60 271.05L259.20 271.05M37.80 264.52L40.20 264.52M261.60 264.52L259.20 264.52M37.80 258.00L42.60 258.00M261.60 258.00L256.80 258.00M37.80 459.00L40.20 459.00M261.60 459.00L259.20 459.00M37.80 454.59L40.20 454.59M261.60 454.59L259.20 454.59M37.80 450.18L42.60 450.18M261.60 450.18L256.80 450.18M37.80 445.77L40.20 445.77M261.60 445.77L259.20 445.77M37.80 441.36L40.20 441.36M261.60 441.36L259.20 441.36M37.80 436.95L40.20 436.95M261.60 436.95L259.20 436.95M37.80 432.54L40.20 432.54M261.60 432.54L259.20 432.54M37.80 428.13L40.20 428.13M261.60 428.13L259.20 428.13M37.80 423.73L40.20 423.73M261.60 423.73L259.20 423.73M37.80 419.32L40.20 419.32M261.60 419.32L259.20 419.32M37.80 414.91L40.20 414.91M261.60 414.91L259.20 414.91M37.80 410.50L40.20 410.50M261.60 410.50L259.20 410.50M37.80 406.09L42.60 406.09M261.60 406.09L256.80 406.09M37.80 401.68L40.20 401.68M261.60 401.68L259.20 401.68M37.80 397.27L40.20 397.27M261.60 397.27L259.20 397.27M37.80 392.86L40.20 392.86M261.60 392.86L259.20 392.86M37.80 388.45L40.20 388.45M261.60 388.45L259.20 388.45M37.80 383.65L37.80 393.25M37.80 459.00L37.80 454.20M37.80 258.00L37.80 262.80M44.79 386.05L44.79 390.85M44.79 459.00L44.79 456.60M44.79 258.00L44.79 260.40M51.79 386.05L51.79 390.85M51.79 459.00L51.79 456.60M51.79 258.00L51.79 260.40M58.78 386.05L58.78 390.85M58.78 459.00L58.78 456.60M58.78 258.00L58.78 260.40M65.77 386.05L65.77 390.85M65.77 459.00L65.77 456.60M65.77 258.00L65.77 260.40M72.77 383.65L72.77 393.25M72.77 459.00L72.77 454.20M72.77 258.00L72.77 262.80M79.76 386.05L79.76 390.85M79.76 459.00L79.76 456.60M79.76 258.00L79.76 260.40M86.76 386.05L86.76 390.85M86.76 459.00L86.76 456.60M86.76 258.00L86.76 260.40M93.75 386.05L93.75 390.85M93.75 459.00L93.75 456.60M93.75 258.00L93.75 260.40M100.74 386.05L100.74 390.85M100.74 459.00L100.74 456.60M100.74 258.00L100.74 260.40M107.74 383.65L107.74 393.25M107.74 459.00L107.74 454.20M107.74 258.00L107.74 262.80M114.73 386.05L114.73 390.85M114.73 459.00L114.73 456.60M114.73 258.00L114.73 260.40M121.73 386.05L121.73 390.85M121.73 459.00L121.73 456.60M121.73 258.00L121.73 260.40M128.72 386.05L128.72 390.85M128.72 459.00L128.72 456.60M128.72 258.00L128.72 260.40M135.71 386.05L135.71 390.85M135.71 459.00L135.71 456.60M135.71 258.00L135.71 260.40M142.71 383.65L142.71 393.25M142.71 459.00L142.71 454.20M142.71 258.00L142.71 262.80M149.70 386.05L149.70 390.85M149.70 459.00L149.70 456.60M149.70 258.00L149.70 260.40M156.69 386.05L156.69 390.85M156.69 459.00L156.69 456.60M156.69 258.00L156.69 260.40M163.69 386.05L163.69 390.85M163.69 459.00L163.69 456.60M163.69 258.00L163.69 260.40M170.68 386.05L170.68 390.85M170.68 459.00L170.68 456.60M170.68 258.00L170.68 260.40M177.68 383.65L177.68 393.25M177.68 459.00L177.68 454.20M177.68 258.00L177.68 262.80M184.67 386.05L184.67 390.85M184.67 459.00L184.67 456.60M184.67 258.00L184.67 260.40M191.66 386.05L191.66 390.85M191.66 459.00L191.66 456.60M191.66 258.00L191.66 260.40M198.66 386.05L198.66 390.85M198.66 459.00L198.66 456.60M198.66 258.00L198.66 260.40M205.65 386.05L205.65 390.85M205.65 459.00L205.65 456.60M205.65 258.00L205.65 260.40M212.64 383.65L212.64 393.25M212.64 459.00L212.64 454.20M212.64 258.00L212.64 262.80M219.64 386.05L219.64 390.85M219.64 459.00L219.64 456.60M219.64 258.00L219.64 260.40M226.63 386.05L226.63 390.85M226.63 459.00L226.63 456.60M226.63 258.00L226.63 260.40M233.63 386.05L233.63 390.85M233.63 459.00L233.63 456.60M233.63 258.00L233.63 260.40M240.62 386.05L240.62 390.85M240.62 459.00L240.62 456.60M240.62 258.00L240.62 260.40M247.61 383.65L247.61 393.25M247.61 459.00L247.61 454.20M247.61 258.00L247.61 262.80M254.61 386.05L254.61 390.85M254.61 459.00L254.61 456.60M254.61 258.00L254.61 260.40M261.60 386.05L261.60 390.85M261.60 459.00L261.60 456.60M261.60 258.00L261.60 260.40" stroke="#000" stroke-width="1.15" fill="none"/>
<rect x="37.8" y="258.0" width="223.8" height="201.0" fill="none" stroke="#000" stroke-width="1.35"/>
<line x1="37.80" y1="388.45" x2="261.60" y2="388.45" stroke="#000" stroke-width="1.35" />
<clipPath id="cu11"><rect x="272.8" y="258.0" width="223.8" height="130.45"/></clipPath>
<clipPath id="cl11"><rect x="272.8" y="388.45" width="223.8" height="70.55000000000001"/></clipPath>
<line x1="307.77" y1="388.45" x2="307.77" y2="459.00" stroke="#7a7a7a" stroke-width="0.7" stroke-dasharray="0.7 1.35"/>
<line x1="342.74" y1="388.45" x2="342.74" y2="459.00" stroke="#7a7a7a" stroke-width="0.7" stroke-dasharray="0.7 1.35"/>
<line x1="377.71" y1="388.45" x2="377.71" y2="459.00" stroke="#7a7a7a" stroke-width="0.7" stroke-dasharray="0.7 1.35"/>
<line x1="412.68" y1="388.45" x2="412.68" y2="459.00" stroke="#7a7a7a" stroke-width="0.7" stroke-dasharray="0.7 1.35"/>
<line x1="447.64" y1="388.45" x2="447.64" y2="459.00" stroke="#7a7a7a" stroke-width="0.7" stroke-dasharray="0.7 1.35"/>
<line x1="482.61" y1="388.45" x2="482.61" y2="459.00" stroke="#7a7a7a" stroke-width="0.7" stroke-dasharray="0.7 1.35"/>
<line x1="272.80" y1="450.18" x2="496.60" y2="450.18" stroke="#7a7a7a" stroke-width="0.7" stroke-dasharray="0.7 1.35"/>
<line x1="272.80" y1="406.09" x2="496.60" y2="406.09" stroke="#7a7a7a" stroke-width="0.7" stroke-dasharray="0.7 1.35"/>
<rect x="374" y="389" width="104" height="24.5" fill="#fff"/>
<polygon points="273.0,354.1 279.7,352.9 286.3,353.6 293.0,354.9 298.0,354.9 304.6,349.9 311.3,345.8 317.9,343.6 324.6,345.8 331.3,344.6 337.9,346.3 344.6,347.9 351.2,348.6 359.6,348.8 367.9,349.3 379.5,349.6 397.0,350.3 408.3,351.3 418.3,349.1 428.3,347.4 438.2,345.8 446.6,344.9 454.9,344.9 461.6,345.4 465.7,347.9 471.5,348.6 478.2,347.8 486.5,346.6 493.5,344.9 493.5,347.9 484.9,349.6 474.9,352.1 468.2,353.3 460.7,354.6 454.9,351.6 448.2,350.8 441.6,351.6 433.3,352.4 424.9,353.6 418.3,357.4 413.3,358.6 408.3,356.6 401.6,355.8 392.8,357.1 382.9,355.8 372.9,354.9 362.9,354.4 352.9,354.6 346.2,356.3 339.6,355.8 331.3,356.6 324.6,357.9 317.9,360.8 312.9,364.1 308.0,365.8 303.0,366.6 296.3,365.8 289.6,369.1 283.8,372.1 278.0,370.7 273.0,371.2" fill="#0080ff" fill-opacity="0.6" clip-path="url(#cu11)"/>
<polyline points="273.0,359.9 279.7,361.6 286.3,362.4 293.0,361.6 299.6,359.1 306.3,356.6 312.9,354.6 319.6,352.4 326.3,351.3 332.9,349.9 339.6,350.3 346.2,350.8 352.9,350.3 359.6,350.3 366.2,351.3 376.2,352.4 386.2,353.6 397.0,354.4 408.3,353.6 418.3,351.9 428.3,349.6 438.2,347.9 446.6,347.4 454.9,347.9 461.6,350.3 468.2,350.8 474.9,349.6 484.9,347.9 493.5,346.3" fill="none" stroke="#0080ff" stroke-width="2.3" stroke-linejoin="round" clip-path="url(#cu11)"/>
<polygon points="273.0,358.3 279.7,353.3 286.3,346.6 293.0,339.1 299.6,332.5 306.3,326.6 312.9,322.5 319.6,320.3 326.3,319.5 336.2,319.5 345.4,319.5 351.2,322.1 359.6,324.1 367.9,326.6 374.5,330.0 381.2,334.1 386.2,337.5 392.8,339.1 397.0,340.0 405.0,340.8 414.9,340.5 424.9,337.5 431.6,335.8 438.2,334.6 448.2,334.5 458.2,334.5 466.5,334.6 474.9,335.8 483.2,336.3 493.5,337.0 493.5,344.1 484.9,344.1 474.9,344.1 464.9,344.4 454.9,343.6 444.9,343.3 438.2,344.1 428.3,346.9 418.3,349.9 408.3,353.3 401.6,355.4 397.0,354.4 392.8,353.3 382.9,351.9 372.9,350.8 362.9,349.9 352.9,350.3 346.2,351.9 339.6,351.3 332.9,351.6 326.3,352.9 319.6,354.9 312.9,358.3 306.3,359.1 299.6,360.8 293.0,363.3 286.3,364.9 279.7,368.2 273.0,371.2" fill="#ff0000" fill-opacity="0.6" clip-path="url(#cu11)"/>
<polyline points="273.0,365.3 278.0,363.3 284.7,358.3 291.3,353.3 298.0,349.1 304.6,345.8 311.3,342.9 317.9,340.8 326.3,339.6 334.6,339.5 344.6,340.0 354.6,340.8 364.5,342.9 374.5,344.9 384.5,346.6 397.0,349.1 401.6,349.6 408.3,348.3 418.3,345.8 428.3,342.9 438.2,340.8 444.9,340.0 454.9,339.6 464.9,340.0 474.9,340.5 484.9,341.0 493.5,340.8" fill="none" stroke="#ff0000" stroke-width="2.3" stroke-linejoin="round" clip-path="url(#cu11)"/>
<polyline points="273.0,371.6 281.3,369.6 289.6,367.4 306.3,364.9 322.9,362.8 339.6,361.1 356.2,359.1 372.9,357.4 389.5,355.8 397.0,354.9 408.3,353.8 424.9,352.1 441.6,351.1 458.2,349.9 474.9,348.3 493.5,346.6 499.0,346.1" fill="none" stroke="#000" stroke-width="1.7" stroke-linejoin="round" stroke-dasharray="3.4 4.7" clip-path="url(#cu11)"/>
<polyline points="273.2,424.9 285.0,425.4 295.0,424.3 306.6,422.9 318.3,421.8 328.2,421.8 339.9,422.9 349.9,423.8 359.9,424.6 371.5,425.8 385.0,427.1 390.0,427.6 401.6,428.4 413.3,428.8 424.9,428.3 436.6,427.6 446.6,427.9 456.6,429.3 466.6,430.9 478.2,430.1 488.2,428.8 494.0,428.8" fill="none" stroke="#0080ff" stroke-width="2.2" stroke-linejoin="round" stroke-dasharray="4.3 6.35" clip-path="url(#cl11)"/>
<polyline points="273.2,427.6 285.0,422.9 295.0,418.8 304.9,415.5 314.9,413.8 326.6,413.3 336.6,414.3 348.2,415.8 358.2,417.5 369.9,419.6 385.0,422.9 390.0,423.4 400.0,425.4 411.6,425.1 421.6,424.3 433.3,423.4 444.9,422.9 454.9,422.9 464.9,423.4 476.5,424.3 486.5,425.4 494.0,425.9" fill="none" stroke="#ff0000" stroke-width="2.2" stroke-linejoin="round" stroke-dasharray="4.3 6.35" clip-path="url(#cl11)"/>
<polyline points="273.2,451.6 278.3,450.9 285.0,448.2 291.6,447.1 298.3,446.2 311.6,445.4 323.3,445.1 331.6,445.7 338.2,445.7 346.6,445.3 356.5,445.9 368.2,446.7 378.2,447.2 385.0,447.9 391.7,448.1 400.0,448.2 413.3,447.6 426.6,447.6 439.9,447.1 453.2,446.2 459.9,445.4 466.6,445.1 474.9,445.9 484.9,447.1 494.0,447.9" fill="none" stroke="#000" stroke-width="2.2" stroke-linejoin="round" clip-path="url(#cl11)"/>
<path d="M272.80 388.45L277.60 388.45M496.60 388.45L491.80 388.45M272.80 381.93L275.20 381.93M496.60 381.93L494.20 381.93M272.80 375.40L275.20 375.40M496.60 375.40L494.20 375.40M272.80 368.88L275.20 368.88M496.60 368.88L494.20 368.88M272.80 362.36L275.20 362.36M496.60 362.36L494.20 362.36M272.80 355.84L275.20 355.84M496.60 355.84L494.20 355.84M272.80 349.31L275.20 349.31M496.60 349.31L494.20 349.31M272.80 342.79L275.20 342.79M496.60 342.79L494.20 342.79M272.80 336.27L275.20 336.27M496.60 336.27L494.20 336.27M272.80 329.75L275.20 329.75M496.60 329.75L494.20 329.75M272.80 323.23L277.60 323.23M496.60 323.23L491.80 323.23M272.80 316.70L275.20 316.70M496.60 316.70L494.20 316.70M272.80 310.18L275.20 310.18M496.60 310.18L494.20 310.18M272.80 303.66L275.20 303.66M496.60 303.66L494.20 303.66M272.80 297.13L275.20 297.13M496.60 297.13L494.20 297.13M272.80 290.61L275.20 290.61M496.60 290.61L494.20 290.61M272.80 284.09L275.20 284.09M496.60 284.09L494.20 284.09M272.80 277.57L275.20 277.57M496.60 277.57L494.20 277.57M272.80 271.05L275.20 271.05M496.60 271.05L494.20 271.05M272.80 264.52L275.20 264.52M496.60 264.52L494.20 264.52M272.80 258.00L277.60 258.00M496.60 258.00L491.80 258.00M272.80 459.00L275.20 459.00M496.60 459.00L494.20 459.00M272.80 454.59L275.20 454.59M496.60 454.59L494.20 454.59M272.80 450.18L277.60 450.18M496.60 450.18L491.80 450.18M272.80 445.77L275.20 445.77M496.60 445.77L494.20 445.77M272.80 441.36L275.20 441.36M496.60 441.36L494.20 441.36M272.80 436.95L275.20 436.95M496.60 436.95L494.20 436.95M272.80 432.54L275.20 432.54M496.60 432.54L494.20 432.54M272.80 428.13L275.20 428.13M496.60 428.13L494.20 428.13M272.80 423.73L275.20 423.73M496.60 423.73L494.20 423.73M272.80 419.32L275.20 419.32M496.60 419.32L494.20 419.32M272.80 414.91L275.20 414.91M496.60 414.91L494.20 414.91M272.80 410.50L275.20 410.50M496.60 410.50L494.20 410.50M272.80 406.09L277.60 406.09M496.60 406.09L491.80 406.09M272.80 401.68L275.20 401.68M496.60 401.68L494.20 401.68M272.80 397.27L275.20 397.27M496.60 397.27L494.20 397.27M272.80 392.86L275.20 392.86M496.60 392.86L494.20 392.86M272.80 388.45L275.20 388.45M496.60 388.45L494.20 388.45M272.80 383.65L272.80 393.25M272.80 459.00L272.80 454.20M272.80 258.00L272.80 262.80M279.79 386.05L279.79 390.85M279.79 459.00L279.79 456.60M279.79 258.00L279.79 260.40M286.79 386.05L286.79 390.85M286.79 459.00L286.79 456.60M286.79 258.00L286.79 260.40M293.78 386.05L293.78 390.85M293.78 459.00L293.78 456.60M293.78 258.00L293.78 260.40M300.77 386.05L300.77 390.85M300.77 459.00L300.77 456.60M300.77 258.00L300.77 260.40M307.77 383.65L307.77 393.25M307.77 459.00L307.77 454.20M307.77 258.00L307.77 262.80M314.76 386.05L314.76 390.85M314.76 459.00L314.76 456.60M314.76 258.00L314.76 260.40M321.76 386.05L321.76 390.85M321.76 459.00L321.76 456.60M321.76 258.00L321.76 260.40M328.75 386.05L328.75 390.85M328.75 459.00L328.75 456.60M328.75 258.00L328.75 260.40M335.74 386.05L335.74 390.85M335.74 459.00L335.74 456.60M335.74 258.00L335.74 260.40M342.74 383.65L342.74 393.25M342.74 459.00L342.74 454.20M342.74 258.00L342.74 262.80M349.73 386.05L349.73 390.85M349.73 459.00L349.73 456.60M349.73 258.00L349.73 260.40M356.73 386.05L356.73 390.85M356.73 459.00L356.73 456.60M356.73 258.00L356.73 260.40M363.72 386.05L363.72 390.85M363.72 459.00L363.72 456.60M363.72 258.00L363.72 260.40M370.71 386.05L370.71 390.85M370.71 459.00L370.71 456.60M370.71 258.00L370.71 260.40M377.71 383.65L377.71 393.25M377.71 459.00L377.71 454.20M377.71 258.00L377.71 262.80M384.70 386.05L384.70 390.85M384.70 459.00L384.70 456.60M384.70 258.00L384.70 260.40M391.69 386.05L391.69 390.85M391.69 459.00L391.69 456.60M391.69 258.00L391.69 260.40M398.69 386.05L398.69 390.85M398.69 459.00L398.69 456.60M398.69 258.00L398.69 260.40M405.68 386.05L405.68 390.85M405.68 459.00L405.68 456.60M405.68 258.00L405.68 260.40M412.68 383.65L412.68 393.25M412.68 459.00L412.68 454.20M412.68 258.00L412.68 262.80M419.67 386.05L419.67 390.85M419.67 459.00L419.67 456.60M419.67 258.00L419.67 260.40M426.66 386.05L426.66 390.85M426.66 459.00L426.66 456.60M426.66 258.00L426.66 260.40M433.66 386.05L433.66 390.85M433.66 459.00L433.66 456.60M433.66 258.00L433.66 260.40M440.65 386.05L440.65 390.85M440.65 459.00L440.65 456.60M440.65 258.00L440.65 260.40M447.64 383.65L447.64 393.25M447.64 459.00L447.64 454.20M447.64 258.00L447.64 262.80M454.64 386.05L454.64 390.85M454.64 459.00L454.64 456.60M454.64 258.00L454.64 260.40M461.63 386.05L461.63 390.85M461.63 459.00L461.63 456.60M461.63 258.00L461.63 260.40M468.63 386.05L468.63 390.85M468.63 459.00L468.63 456.60M468.63 258.00L468.63 260.40M475.62 386.05L475.62 390.85M475.62 459.00L475.62 456.60M475.62 258.00L475.62 260.40M482.61 383.65L482.61 393.25M482.61 459.00L482.61 454.20M482.61 258.00L482.61 262.80M489.61 386.05L489.61 390.85M489.61 459.00L489.61 456.60M489.61 258.00L489.61 260.40M496.60 386.05L496.60 390.85M496.60 459.00L496.60 456.60M496.60 258.00L496.60 260.40" stroke="#000" stroke-width="1.15" fill="none"/>
<rect x="272.8" y="258.0" width="223.8" height="201.0" fill="none" stroke="#000" stroke-width="1.35"/>
<line x1="272.80" y1="388.45" x2="496.60" y2="388.45" stroke="#000" stroke-width="1.35" />
<clipPath id="cu12"><rect x="507.8" y="258.0" width="223.8" height="130.45"/></clipPath>
<clipPath id="cl12"><rect x="507.8" y="388.45" width="223.8" height="70.55000000000001"/></clipPath>
<line x1="542.77" y1="388.45" x2="542.77" y2="459.00" stroke="#7a7a7a" stroke-width="0.7" stroke-dasharray="0.7 1.35"/>
<line x1="577.74" y1="388.45" x2="577.74" y2="459.00" stroke="#7a7a7a" stroke-width="0.7" stroke-dasharray="0.7 1.35"/>
<line x1="612.71" y1="388.45" x2="612.71" y2="459.00" stroke="#7a7a7a" stroke-width="0.7" stroke-dasharray="0.7 1.35"/>
<line x1="647.67" y1="388.45" x2="647.67" y2="459.00" stroke="#7a7a7a" stroke-width="0.7" stroke-dasharray="0.7 1.35"/>
<line x1="682.64" y1="388.45" x2="682.64" y2="459.00" stroke="#7a7a7a" stroke-width="0.7" stroke-dasharray="0.7 1.35"/>
<line x1="717.61" y1="388.45" x2="717.61" y2="459.00" stroke="#7a7a7a" stroke-width="0.7" stroke-dasharray="0.7 1.35"/>
<line x1="507.80" y1="450.18" x2="731.60" y2="450.18" stroke="#7a7a7a" stroke-width="0.7" stroke-dasharray="0.7 1.35"/>
<line x1="507.80" y1="406.09" x2="731.60" y2="406.09" stroke="#7a7a7a" stroke-width="0.7" stroke-dasharray="0.7 1.35"/>
<rect x="609" y="389" width="104" height="24.5" fill="#fff"/>
<polygon points="508.0,355.8 518.0,356.3 528.0,354.9 538.0,354.1 546.3,352.4 552.1,354.9 559.6,354.1 567.9,354.1 574.6,355.4 584.6,355.8 594.6,355.4 604.5,354.6 614.5,354.1 624.5,352.9 632.0,352.1 643.3,352.4 653.3,352.1 661.6,352.4 671.6,350.3 681.6,349.3 689.9,348.8 696.6,348.6 704.9,346.9 711.5,346.3 719.9,346.3 728.5,345.8 728.5,347.9 719.9,348.3 711.5,348.8 704.9,349.6 696.6,351.1 689.9,351.9 681.6,351.6 671.6,352.9 661.6,354.9 653.3,354.6 643.3,354.9 632.0,354.6 617.9,356.6 604.5,358.3 591.2,359.9 577.9,361.3 567.9,360.8 557.9,359.9 547.9,359.1 538.0,360.3 528.0,361.6 518.0,363.3 508.0,364.9" fill="#0080ff" fill-opacity="0.6" clip-path="url(#cu12)"/>
<polyline points="508.0,359.1 518.0,359.6 528.0,358.3 538.0,357.4 547.9,355.8 557.9,355.8 567.9,356.3 577.9,356.9 591.2,356.9 604.5,355.8 617.9,354.6 632.0,353.3 643.3,353.4 653.3,353.1 661.6,353.4 671.6,351.4 681.6,350.3 689.9,350.1 696.6,349.6 704.9,348.1 711.5,347.4 719.9,347.3 728.5,346.8" fill="none" stroke="#0080ff" stroke-width="2.3" stroke-linejoin="round" clip-path="url(#cu12)"/>
<polygon points="508.0,366.6 518.0,364.6 528.0,362.4 538.0,360.4 547.9,358.3 554.6,357.6 564.6,357.9 574.6,356.4 581.2,355.4 591.2,355.8 601.2,354.9 611.2,354.6 621.2,353.6 632.0,352.4 643.3,351.6 653.3,351.3 661.6,351.6 671.6,349.1 681.6,348.3 689.9,347.4 696.6,347.8 704.9,345.4 711.5,344.4 719.9,344.9 728.5,344.9 728.5,347.8 719.9,347.9 711.5,347.9 704.9,349.1 696.6,350.4 689.9,351.3 681.6,351.1 671.6,352.4 661.6,354.1 653.3,353.9 643.3,354.4 632.0,355.4 624.5,356.3 614.5,357.4 604.5,358.3 594.6,359.6 584.6,359.1 574.6,360.1 564.6,361.8 556.3,361.6 547.9,362.4 538.0,363.8 528.0,365.8 518.0,367.9 508.0,369.9" fill="#ff0000" fill-opacity="0.6" clip-path="url(#cu12)"/>
<polyline points="508.0,368.2 518.0,366.3 528.0,364.1 538.0,362.1 547.9,360.4 556.3,359.4 564.6,359.6 574.6,358.1 584.6,357.1 594.6,357.4 604.5,356.3 614.5,355.8 624.5,354.6 632.0,353.8 643.3,352.9 653.3,352.6 661.6,352.8 671.6,350.8 681.6,349.6 689.9,349.1 696.6,349.1 704.9,347.1 711.5,346.1 719.9,346.3 728.5,346.3" fill="none" stroke="#ff0000" stroke-width="2.3" stroke-linejoin="round" clip-path="url(#cu12)"/>
<polyline points="508.0,370.7 524.6,367.4 541.3,364.9 557.9,363.3 574.6,361.6 591.2,359.9 607.9,357.9 624.5,356.3 632.0,355.4 643.3,354.1 659.9,352.9 676.6,351.3 693.2,349.9 709.9,348.3 728.5,346.6 734.0,346.1" fill="none" stroke="#000" stroke-width="1.7" stroke-linejoin="round" stroke-dasharray="3.4 4.7" clip-path="url(#cu12)"/>
<polyline points="508.2,420.9 520.0,421.8 531.6,422.6 543.3,423.1 553.3,423.4 563.2,424.9 573.2,425.8 579.9,426.8 586.6,427.6 596.5,428.3 606.5,428.4 620.0,428.4 635.0,428.4 648.3,428.6 659.9,429.1 671.6,429.6 681.6,429.4 693.2,429.4 704.9,428.9 714.9,428.6 723.2,428.3 729.0,427.9" fill="none" stroke="#0080ff" stroke-width="2.2" stroke-linejoin="round" stroke-dasharray="4.3 6.35" clip-path="url(#cl12)"/>
<polyline points="508.2,428.3 520.0,428.3 531.6,427.9 543.3,427.6 553.3,427.4 563.2,427.1 574.9,427.6 584.9,427.6 596.5,428.3 606.5,428.8 620.0,428.8 635.0,428.3 648.3,428.4 659.9,428.9 671.6,429.3 681.6,428.9 693.2,428.9 704.9,428.4 714.9,427.9 723.2,427.9 729.0,427.6" fill="none" stroke="#ff0000" stroke-width="2.2" stroke-linejoin="round" stroke-dasharray="4.3 6.35" clip-path="url(#cl12)"/>
<polyline points="508.2,454.6 520.0,453.7 533.3,452.9 546.6,452.6 553.3,451.6 566.6,451.6 574.9,450.4 581.6,449.9 589.9,450.4 599.9,450.4 609.9,450.6 620.0,450.6 631.6,450.6 643.3,449.9 654.9,449.9 668.3,450.1 681.6,449.9 691.6,449.9 701.6,449.4 711.5,449.6 721.5,449.9 729.0,450.4" fill="none" stroke="#000" stroke-width="2.2" stroke-linejoin="round" clip-path="url(#cl12)"/>
<path d="M507.80 388.45L512.60 388.45M731.60 388.45L726.80 388.45M507.80 381.93L510.20 381.93M731.60 381.93L729.20 381.93M507.80 375.40L510.20 375.40M731.60 375.40L729.20 375.40M507.80 368.88L510.20 368.88M731.60 368.88L729.20 368.88M507.80 362.36L510.20 362.36M731.60 362.36L729.20 362.36M507.80 355.84L510.20 355.84M731.60 355.84L729.20 355.84M507.80 349.31L510.20 349.31M731.60 349.31L729.20 349.31M507.80 342.79L510.20 342.79M731.60 342.79L729.20 342.79M507.80 336.27L510.20 336.27M731.60 336.27L729.20 336.27M507.80 329.75L510.20 329.75M731.60 329.75L729.20 329.75M507.80 323.23L512.60 323.23M731.60 323.23L726.80 323.23M507.80 316.70L510.20 316.70M731.60 316.70L729.20 316.70M507.80 310.18L510.20 310.18M731.60 310.18L729.20 310.18M507.80 303.66L510.20 303.66M731.60 303.66L729.20 303.66M507.80 297.13L510.20 297.13M731.60 297.13L729.20 297.13M507.80 290.61L510.20 290.61M731.60 290.61L729.20 290.61M507.80 284.09L510.20 284.09M731.60 284.09L729.20 284.09M507.80 277.57L510.20 277.57M731.60 277.57L729.20 277.57M507.80 271.05L510.20 271.05M731.60 271.05L729.20 271.05M507.80 264.52L510.20 264.52M731.60 264.52L729.20 264.52M507.80 258.00L512.60 258.00M731.60 258.00L726.80 258.00M507.80 459.00L510.20 459.00M731.60 459.00L729.20 459.00M507.80 454.59L510.20 454.59M731.60 454.59L729.20 454.59M507.80 450.18L512.60 450.18M731.60 450.18L726.80 450.18M507.80 445.77L510.20 445.77M731.60 445.77L729.20 445.77M507.80 441.36L510.20 441.36M731.60 441.36L729.20 441.36M507.80 436.95L510.20 436.95M731.60 436.95L729.20 436.95M507.80 432.54L510.20 432.54M731.60 432.54L729.20 432.54M507.80 428.13L510.20 428.13M731.60 428.13L729.20 428.13M507.80 423.73L510.20 423.73M731.60 423.73L729.20 423.73M507.80 419.32L510.20 419.32M731.60 419.32L729.20 419.32M507.80 414.91L510.20 414.91M731.60 414.91L729.20 414.91M507.80 410.50L510.20 410.50M731.60 410.50L729.20 410.50M507.80 406.09L512.60 406.09M731.60 406.09L726.80 406.09M507.80 401.68L510.20 401.68M731.60 401.68L729.20 401.68M507.80 397.27L510.20 397.27M731.60 397.27L729.20 397.27M507.80 392.86L510.20 392.86M731.60 392.86L729.20 392.86M507.80 388.45L510.20 388.45M731.60 388.45L729.20 388.45M507.80 383.65L507.80 393.25M507.80 459.00L507.80 454.20M507.80 258.00L507.80 262.80M514.79 386.05L514.79 390.85M514.79 459.00L514.79 456.60M514.79 258.00L514.79 260.40M521.79 386.05L521.79 390.85M521.79 459.00L521.79 456.60M521.79 258.00L521.79 260.40M528.78 386.05L528.78 390.85M528.78 459.00L528.78 456.60M528.78 258.00L528.78 260.40M535.77 386.05L535.77 390.85M535.77 459.00L535.77 456.60M535.77 258.00L535.77 260.40M542.77 383.65L542.77 393.25M542.77 459.00L542.77 454.20M542.77 258.00L542.77 262.80M549.76 386.05L549.76 390.85M549.76 459.00L549.76 456.60M549.76 258.00L549.76 260.40M556.76 386.05L556.76 390.85M556.76 459.00L556.76 456.60M556.76 258.00L556.76 260.40M563.75 386.05L563.75 390.85M563.75 459.00L563.75 456.60M563.75 258.00L563.75 260.40M570.74 386.05L570.74 390.85M570.74 459.00L570.74 456.60M570.74 258.00L570.74 260.40M577.74 383.65L577.74 393.25M577.74 459.00L577.74 454.20M577.74 258.00L577.74 262.80M584.73 386.05L584.73 390.85M584.73 459.00L584.73 456.60M584.73 258.00L584.73 260.40M591.73 386.05L591.73 390.85M591.73 459.00L591.73 456.60M591.73 258.00L591.73 260.40M598.72 386.05L598.72 390.85M598.72 459.00L598.72 456.60M598.72 258.00L598.72 260.40M605.71 386.05L605.71 390.85M605.71 459.00L605.71 456.60M605.71 258.00L605.71 260.40M612.71 383.65L612.71 393.25M612.71 459.00L612.71 454.20M612.71 258.00L612.71 262.80M619.70 386.05L619.70 390.85M619.70 459.00L619.70 456.60M619.70 258.00L619.70 260.40M626.69 386.05L626.69 390.85M626.69 459.00L626.69 456.60M626.69 258.00L626.69 260.40M633.69 386.05L633.69 390.85M633.69 459.00L633.69 456.60M633.69 258.00L633.69 260.40M640.68 386.05L640.68 390.85M640.68 459.00L640.68 456.60M640.68 258.00L640.68 260.40M647.67 383.65L647.67 393.25M647.67 459.00L647.67 454.20M647.67 258.00L647.67 262.80M654.67 386.05L654.67 390.85M654.67 459.00L654.67 456.60M654.67 258.00L654.67 260.40M661.66 386.05L661.66 390.85M661.66 459.00L661.66 456.60M661.66 258.00L661.66 260.40M668.66 386.05L668.66 390.85M668.66 459.00L668.66 456.60M668.66 258.00L668.66 260.40M675.65 386.05L675.65 390.85M675.65 459.00L675.65 456.60M675.65 258.00L675.65 260.40M682.64 383.65L682.64 393.25M682.64 459.00L682.64 454.20M682.64 258.00L682.64 262.80M689.64 386.05L689.64 390.85M689.64 459.00L689.64 456.60M689.64 258.00L689.64 260.40M696.63 386.05L696.63 390.85M696.63 459.00L696.63 456.60M696.63 258.00L696.63 260.40M703.62 386.05L703.62 390.85M703.62 459.00L703.62 456.60M703.62 258.00L703.62 260.40M710.62 386.05L710.62 390.85M710.62 459.00L710.62 456.60M710.62 258.00L710.62 260.40M717.61 383.65L717.61 393.25M717.61 459.00L717.61 454.20M717.61 258.00L717.61 262.80M724.61 386.05L724.61 390.85M724.61 459.00L724.61 456.60M724.61 258.00L724.61 260.40M731.60 386.05L731.60 390.85M731.60 459.00L731.60 456.60M731.60 258.00L731.60 260.40" stroke="#000" stroke-width="1.15" fill="none"/>
<rect x="507.8" y="258.0" width="223.8" height="201.0" fill="none" stroke="#000" stroke-width="1.35"/>
<line x1="507.80" y1="388.45" x2="731.60" y2="388.45" stroke="#000" stroke-width="1.35" />
<rect x="682.2" y="277.2" width="31.8" height="5.7" fill="#0080ff" fill-opacity="0.6"/>
<rect x="682.2" y="295.1" width="31.8" height="5.8" fill="#ff0000" fill-opacity="0.6"/>
<line x1="205.3" y1="405.1" x2="231.9" y2="405.1" stroke="#0080ff" stroke-width="2.2" stroke-dasharray="4.3 6.35"/>
<line x1="440.7" y1="405.1" x2="466.9" y2="405.1" stroke="#ff0000" stroke-width="2.2" stroke-dasharray="4.3 6.35"/>
<line x1="675.8" y1="405.1" x2="706.9" y2="405.1" stroke="#000" stroke-width="2.2"/>
<g opacity="0.999" fill="#000" stroke="#000" stroke-width="0.15" font-family="Liberation Sans, sans-serif">
<text transform="translate(48.00,37.60) scale(1.122,1)" font-size="10.71" text-anchor="middle">1</text>
<text transform="translate(110.11,37.60) scale(1.122,1)" font-size="10.71" text-anchor="middle">0.5</text>
<text transform="translate(152.54,37.60) scale(1.122,1)" font-size="10.71" text-anchor="middle">0.3</text>
<text transform="translate(215.08,37.60) scale(1.122,1)" font-size="10.71" text-anchor="middle">0.1</text>
<text transform="translate(258.45,37.60) scale(1.122,1)" font-size="10.71" text-anchor="middle">0</text>
<text transform="translate(149.70,23.90) scale(1.029,1)" font-size="11.22" text-anchor="middle">z</text>
<text transform="translate(32.60,178.40) scale(1.122,1)" font-size="10.71" text-anchor="end">1</text>
<text transform="translate(32.60,113.00) scale(1.122,1)" font-size="10.71" text-anchor="end">2</text>
<text transform="translate(32.60,47.60) scale(1.122,1)" font-size="10.71" text-anchor="end">3</text>
<text transform="translate(32.60,240.26) scale(1.122,1)" font-size="10.71" text-anchor="end">1</text>
<text transform="translate(32.60,196.08) scale(1.122,1)" font-size="10.71" text-anchor="end">2</text>
<text transform="translate(14.00,108.90) rotate(-90) scale(1.098,1)" font-size="11.32" text-anchor="middle">r (cMpc)</text>
<text transform="translate(48.60,66.60) scale(1.095,1)" font-size="14.08" text-anchor="start">ξ2V10Γ1</text>
<text transform="translate(283.00,37.60) scale(1.122,1)" font-size="10.71" text-anchor="middle">1</text>
<text transform="translate(345.11,37.60) scale(1.122,1)" font-size="10.71" text-anchor="middle">0.5</text>
<text transform="translate(387.54,37.60) scale(1.122,1)" font-size="10.71" text-anchor="middle">0.3</text>
<text transform="translate(450.08,37.60) scale(1.122,1)" font-size="10.71" text-anchor="middle">0.1</text>
<text transform="translate(493.45,37.60) scale(1.122,1)" font-size="10.71" text-anchor="middle">0</text>
<text transform="translate(384.70,23.90) scale(1.029,1)" font-size="11.22" text-anchor="middle">z</text>
<text transform="translate(283.60,66.60) scale(1.094,1)" font-size="14.08" text-anchor="start">ξ2V1hΓ1</text>
<text transform="translate(518.00,37.60) scale(1.122,1)" font-size="10.71" text-anchor="middle">1</text>
<text transform="translate(580.11,37.60) scale(1.122,1)" font-size="10.71" text-anchor="middle">0.5</text>
<text transform="translate(622.54,37.60) scale(1.122,1)" font-size="10.71" text-anchor="middle">0.3</text>
<text transform="translate(685.08,37.60) scale(1.122,1)" font-size="10.71" text-anchor="middle">0.1</text>
<text transform="translate(728.45,37.60) scale(1.122,1)" font-size="10.71" text-anchor="middle">0</text>
<text transform="translate(619.70,23.90) scale(1.029,1)" font-size="11.22" text-anchor="middle">z</text>
<text transform="translate(518.60,66.60) scale(1.095,1)" font-size="14.08" text-anchor="start">ξ2V21Γ1</text>
<text transform="translate(39.00,473.70) scale(1.122,1)" font-size="10.71" text-anchor="middle">3</text>
<text transform="translate(73.97,473.70) scale(1.122,1)" font-size="10.71" text-anchor="middle">4</text>
<text transform="translate(108.94,473.70) scale(1.122,1)" font-size="10.71" text-anchor="middle">5</text>
<text transform="translate(143.91,473.70) scale(1.122,1)" font-size="10.71" text-anchor="middle">6</text>
<text transform="translate(178.88,473.70) scale(1.122,1)" font-size="10.71" text-anchor="middle">7</text>
<text transform="translate(213.84,473.70) scale(1.122,1)" font-size="10.71" text-anchor="middle">8</text>
<text transform="translate(248.81,473.70) scale(1.122,1)" font-size="10.71" text-anchor="middle">9</text>
<text transform="translate(149.70,488.20) scale(1.131,1)" font-size="11.32" text-anchor="middle">t (Gyr)</text>
<text transform="translate(32.60,392.55) scale(1.122,1)" font-size="10.71" text-anchor="end">1</text>
<text transform="translate(32.60,327.33) scale(1.122,1)" font-size="10.71" text-anchor="end">2</text>
<text transform="translate(32.60,262.10) scale(1.122,1)" font-size="10.71" text-anchor="end">3</text>
<text transform="translate(32.60,454.28) scale(1.122,1)" font-size="10.71" text-anchor="end">1</text>
<text transform="translate(32.60,410.19) scale(1.122,1)" font-size="10.71" text-anchor="end">2</text>
<text transform="translate(14.00,323.23) rotate(-90) scale(1.098,1)" font-size="11.32" text-anchor="middle">r (cMpc)</text>
<text transform="translate(48.60,281.10) scale(1.098,1)" font-size="14.08" text-anchor="start">ξ10V1hΓ1</text>
<text transform="translate(274.00,473.70) scale(1.122,1)" font-size="10.71" text-anchor="middle">3</text>
<text transform="translate(308.97,473.70) scale(1.122,1)" font-size="10.71" text-anchor="middle">4</text>
<text transform="translate(343.94,473.70) scale(1.122,1)" font-size="10.71" text-anchor="middle">5</text>
<text transform="translate(378.91,473.70) scale(1.122,1)" font-size="10.71" text-anchor="middle">6</text>
<text transform="translate(413.88,473.70) scale(1.122,1)" font-size="10.71" text-anchor="middle">7</text>
<text transform="translate(448.84,473.70) scale(1.122,1)" font-size="10.71" text-anchor="middle">8</text>
<text transform="translate(483.81,473.70) scale(1.122,1)" font-size="10.71" text-anchor="middle">9</text>
<text transform="translate(384.70,488.20) scale(1.131,1)" font-size="11.32" text-anchor="middle">t (Gyr)</text>
<text transform="translate(283.60,281.10) scale(1.098,1)" font-size="14.08" text-anchor="start">ξ10V21Γ1</text>
<text transform="translate(509.00,473.70) scale(1.122,1)" font-size="10.71" text-anchor="middle">3</text>
<text transform="translate(543.97,473.70) scale(1.122,1)" font-size="10.71" text-anchor="middle">4</text>
<text transform="translate(578.94,473.70) scale(1.122,1)" font-size="10.71" text-anchor="middle">5</text>
<text transform="translate(613.91,473.70) scale(1.122,1)" font-size="10.71" text-anchor="middle">6</text>
<text transform="translate(648.88,473.70) scale(1.122,1)" font-size="10.71" text-anchor="middle">7</text>
<text transform="translate(683.84,473.70) scale(1.122,1)" font-size="10.71" text-anchor="middle">8</text>
<text transform="translate(718.81,473.70) scale(1.122,1)" font-size="10.71" text-anchor="middle">9</text>
<text transform="translate(619.70,488.20) scale(1.131,1)" font-size="11.32" text-anchor="middle">t (Gyr)</text>
<text transform="translate(518.60,281.10) scale(1.057,1)" font-size="14.08" text-anchor="start">Γ1</text>
<text transform="translate(661.92,283.60) scale(1.210,1)" font-size="11.32">r</text>
<text transform="translate(666.49,286.40) scale(1.073,1)" font-size="7.96">sp</text>
<text transform="translate(654.69,301.30) scale(1.210,1)" font-size="11.32">r</text>
<text transform="translate(659.26,304.10) scale(1.094,1)" font-size="7.96">mas</text>
<text transform="translate(160.67,409.60) scale(1.210,1)" font-size="11.32">r</text>
<text transform="translate(165.23,412.40) scale(1.073,1)" font-size="7.96">sp</text>
<text transform="translate(177.78,409.60) scale(1.189,1)" font-size="11.32">/</text>
<text transform="translate(185.05,409.60) scale(1.210,1)" font-size="11.32">r</text>
<text transform="translate(189.61,412.40) scale(1.190,1)" font-size="7.96">vir</text>
<text transform="translate(388.24,409.60) scale(1.210,1)" font-size="11.32">r</text>
<text transform="translate(392.81,412.40) scale(1.094,1)" font-size="7.96">mas</text>
<text transform="translate(412.78,409.60) scale(1.189,1)" font-size="11.32">/</text>
<text transform="translate(420.05,409.60) scale(1.210,1)" font-size="11.32">r</text>
<text transform="translate(424.61,412.40) scale(1.190,1)" font-size="7.96">vir</text>
<text transform="translate(624.22,409.60) scale(1.210,1)" font-size="11.32">r</text>
<text transform="translate(628.78,412.40) scale(1.094,1)" font-size="7.96">mas</text>
<text transform="translate(648.75,409.60) scale(1.189,1)" font-size="11.32">/</text>
<text transform="translate(656.02,409.60) scale(1.210,1)" font-size="11.32">r</text>
<text transform="translate(660.59,412.40) scale(1.073,1)" font-size="7.96">sp</text>
</g>
</svg>
</body></html>
